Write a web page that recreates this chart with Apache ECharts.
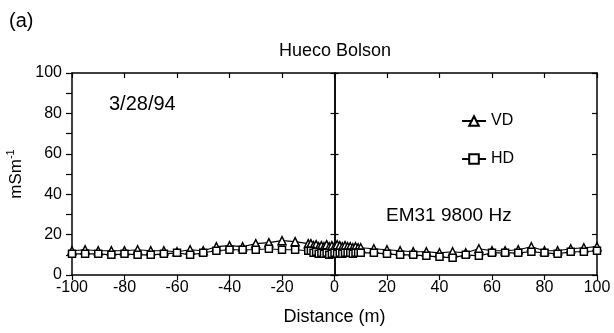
<!DOCTYPE html>
<html>
<head>
<meta charset="utf-8">
<script src="https://cdn.jsdelivr.net/npm/echarts@6/dist/echarts.min.js"></script>
<style>html,body{margin:0;padding:0;background:#fff}#c{width:614px;height:333px}</style>
</head>
<body>
<div id="c"></div>
<script>
var distance = [-100,-95,-90,-85,-80,-75,-70,-65,-60,-55,-50,-45,-40,-35,-30,-25,-20,-15,-10,
  -9,-8,-7,-6,-5,-4,-3,-2,-1,0,1,2,3,4,5,6,7,8,9,
  10,15,20,25,30,35,40,45,50,55,60,65,70,75,80,85,90,95,100];
var vd = [12,12.5,12,12,12,12.5,12,12,11.5,12.5,12,14,14.5,14,15.5,16,17,16.5,15.5,
  15.5,14.5,15,14,14.5,14,15,14,14.5,14,15,14.5,14,14.5,14,14,13.5,14,13.5,
  13.5,13,12.5,12,11.5,11.5,11,11.5,11,13,12,12,12.5,14,12,12,13,13.5,14];
var hd = [10.5,10.5,10.5,10,10.5,10,10,10.5,11,10,11,12,12.5,12.5,12.5,13,12.5,12.5,12,
  12,11,11.5,10.5,11,10.5,11,10,10.5,11,10.5,11,10.5,11,11,11,10.5,11,11,
  11,11,10.5,10,10,9.5,9,8.5,10,9.5,11,11,11,11.5,11,10.5,11.5,11.5,12];
var xTicks = ['-100','-80','-60','-40','-20','0','20','40','60','80','100'];
var yTicks = ['0','20','40','60','80','100'];

var chart = echarts.init(document.getElementById('c'));
var font = 'Liberation Sans, Arial, Helvetica, sans-serif';
function pairs(ys){ return distance.map(function(d,i){ return [d, ys[i]]; }); }
var black = '#000';
option = {
  animation: false,
  backgroundColor: '#fff',
  textStyle: {fontFamily: font, color: black},
  title: [
    {text: '(a)', left: 4, top: 6, textStyle: {fontFamily: font, fontSize: 20, fontWeight: 'normal', color: black}},
    {text: 'Hueco Bolson', left: 274, top: 37, textStyle: {fontFamily: font, fontSize: 18, fontWeight: 'normal', color: black}},
    {text: '3/28/94', left: 104, top: 89, textStyle: {fontFamily: font, fontSize: 20, fontWeight: 'normal', color: black}},
    {text: 'EM31 9800 Hz', left: 381, top: 201, textStyle: {fontFamily: font, fontSize: 19, fontWeight: 'normal', color: black}}
  ],
  legend: {
    orient: 'vertical', left: 456, top: 108, itemGap: 22, itemWidth: 24, itemHeight: 12,
    textStyle: {fontFamily: font, fontSize: 16, color: black},
    data: ['VD', 'HD']
  },
  grid: {left: 72, right: 17, top: 73, bottom: 58, outerBoundsMode: 'none', containLabel: false},
  xAxis: [
    {type: 'value', min: -100, max: 100, interval: 20, position: 'bottom',
     name: 'Distance (m)', nameLocation: 'middle', nameGap: 33,
     nameTextStyle: {fontFamily: font, fontSize: 18, color: black},
     axisLine: {onZero: false, lineStyle: {color: black, width: 1.5}},
     axisTick: {inside: false, length: 5, lineStyle: {color: black, width: 1.2}},
     axisLabel: {fontFamily: font, fontSize: 16, color: black, margin: 5,
       formatter: function(v){ var i = xTicks.indexOf(String(v)); return i >= 0 ? xTicks[i] : ''; }},
     splitLine: {show: false}},
    {type: 'value', min: -100, max: 100, interval: 20, position: 'top',
     axisLine: {onZero: false, lineStyle: {color: black, width: 1.5}},
     axisTick: {inside: true, length: 5, lineStyle: {color: black, width: 1.2}},
     axisLabel: {show: false}, splitLine: {show: false}}
  ],
  yAxis: [
    {type: 'value', min: 0, max: 100, interval: 10, position: 'left',
     name: '{a|mSm}{b|-1}', nameLocation: 'middle', nameGap: 45, nameRotate: 90,
     nameTextStyle: {fontFamily: font, color: black, rich: {
       a: {fontFamily: font, fontSize: 17, color: black},
       b: {fontFamily: font, fontSize: 11, color: black, padding: [0, 0, 10, 0]}}},
     axisLine: {onZero: false, lineStyle: {color: black, width: 1.5}},
     axisTick: {inside: false, length: 6, lineStyle: {color: black, width: 1.2}},
     axisLabel: {fontFamily: font, fontSize: 16, color: black, margin: 10,
       formatter: function(v){ var i = yTicks.indexOf(String(v)); return i >= 0 ? yTicks[i] : ''; }},
     splitLine: {show: false}},
    {type: 'value', min: 0, max: 100, interval: 20, position: 'right',
     axisLine: {onZero: false, lineStyle: {color: black, width: 1.5}},
     axisTick: {inside: true, length: 5, lineStyle: {color: black, width: 1.2}},
     axisLabel: {show: false}, splitLine: {show: false}},
    {type: 'value', min: 0, max: 100, interval: 20, position: 'left',
     axisLine: {onZero: true, onZeroAxisIndex: 0, lineStyle: {color: black, width: 1.5}},
     axisTick: {inside: true, length: 4, lineStyle: {color: black, width: 1.2}},
     axisLabel: {show: false}, splitLine: {show: false}},
    {type: 'value', min: 0, max: 100, interval: 20, position: 'left',
     axisLine: {onZero: true, onZeroAxisIndex: 0, lineStyle: {color: black, width: 1.5}},
     axisTick: {inside: false, length: 4, lineStyle: {color: black, width: 1.2}},
     axisLabel: {show: false}, splitLine: {show: false}}
  ],
  series: [
    {name: 'VD', type: 'line', xAxisIndex: 0, yAxisIndex: 0, data: pairs(vd),
     symbol: 'triangle', symbolSize: 8, showAllSymbol: true,
     lineStyle: {color: black, width: 1.2}, itemStyle: {color: '#fff', borderColor: black, borderWidth: 1.5}},
    {name: 'HD', type: 'line', xAxisIndex: 0, yAxisIndex: 0, data: pairs(hd),
     symbol: 'rect', symbolSize: 7, showAllSymbol: true,
     lineStyle: {color: black, width: 1.2}, itemStyle: {color: '#fff', borderColor: black, borderWidth: 1.5}}
  ]
};
chart.setOption(option);
</script>
</body>
</html>
